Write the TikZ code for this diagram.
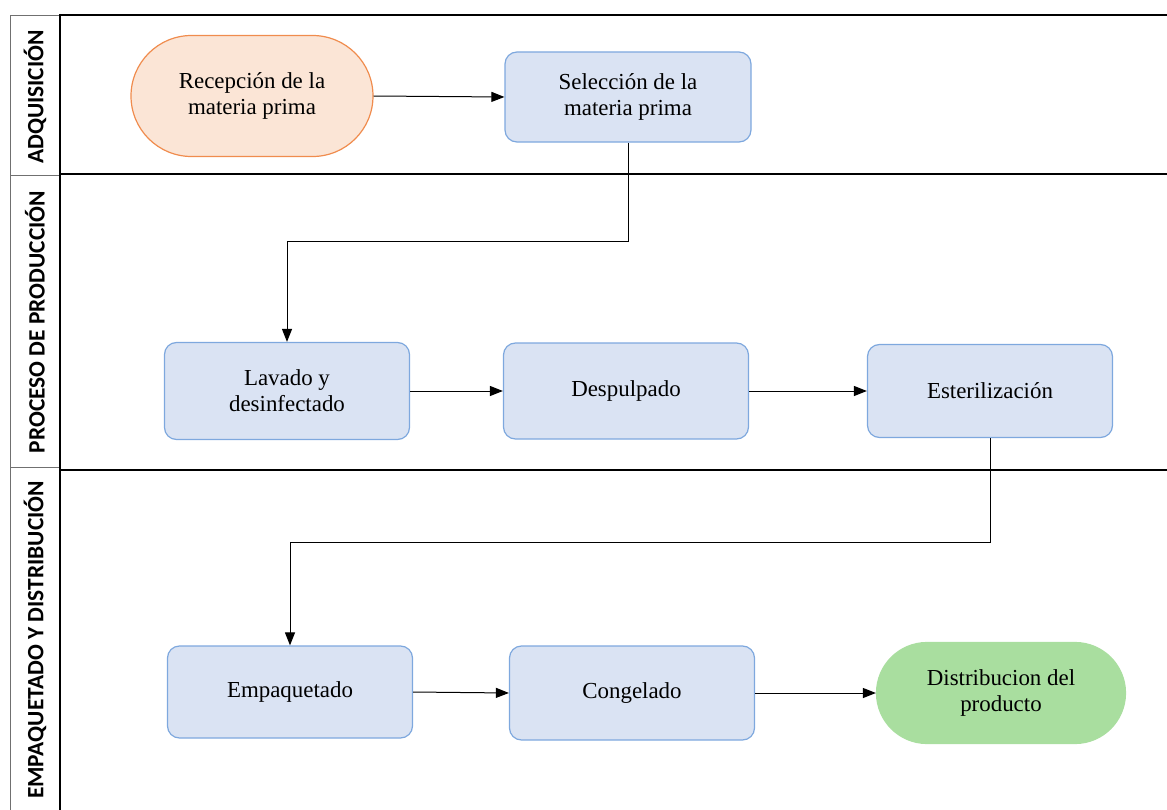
\documentclass[tikz,border=0pt]{standalone}
\usepackage{fontspec}
\setmainfont{Liberation Serif}
\newfontfamily\lanefont{Carlito}
\usetikzlibrary{arrows.meta,shapes.misc}
\definecolor{orfill}{HTML}{FBE5D6}
\definecolor{ordraw}{HTML}{F08C4E}
\definecolor{blfill}{HTML}{DAE3F3}
\definecolor{bldraw}{HTML}{7EA8DE}
\definecolor{grfill}{HTML}{A9DE9F}
\definecolor{thingray}{HTML}{707070}
\tikzset{
  proc/.style={draw=bldraw, fill=blfill, line width=1.2bp, rounded corners=12bp,
    minimum width=245bp, minimum height=95bp, inner sep=0pt, align=center,
    font=\fontsize{23}{26}\selectfont},
  term/.style={rounded rectangle, line width=1.2bp, minimum width=242bp,
    minimum height=120bp, inner sep=0pt, align=center,
    font=\fontsize{23}{26}\selectfont},
  lanelabel/.style={rotate=90, font=\lanefont\bfseries\fontsize{23.5}{26}\selectfont},
  conn/.style={line width=1bp, -{Triangle[length=13bp,width=10bp]}},
  thick lane/.style={line width=2.6bp},
  thin lane/.style={line width=0.9bp, draw=thingray}
}
\begin{document}
\begin{tikzpicture}[x=1bp,y=-1bp]
\useasboundingbox (0,0) rectangle (1167,810);
% label column
\draw[thin lane] (60,15) -- (10,15) -- (10,810);
\draw[thin lane] (10,175) -- (60,175);
\draw[thin lane] (10,467) -- (60,467);
% thick lane lines
\draw[thick lane] (60,15) -- (1167,15);
\draw[thick lane] (60,174) -- (1167,174);
\draw[thick lane] (60,470) -- (1167,470);
\draw[thick lane] (60,14) -- (60,810);
% lane labels
\node[lanelabel] (l1) at (35,97) {ADQUISICIÓN};
\node[lanelabel] (l2) at (35,322) {PROCESO DE PRODUCCIÓN};
\node[lanelabel] (l3) at (35,640) {EMPAQUETADO Y DISTRIBUCIÓN};
% nodes
\node[term, draw=ordraw, fill=orfill, minimum width=242bp, minimum height=121bp] (rec) at (252,96) {Recepción de la\\materia prima};
\node[proc, minimum width=246bp, minimum height=90bp] (sel) at (628,97) {Selección de la\\materia prima};
\node[proc, minimum height=97bp] (lav) at (287,391) {Lavado y\\desinfectado};
\node[proc, minimum height=96bp] (des) at (626,391) {Despulpado};
\node[proc, minimum height=93bp] (est) at (990,391) {Esterilización};
\node[proc, minimum height=92bp] (emp) at (290,692) {Empaquetado};
\node[proc, minimum height=94bp] (con) at (632,693) {Congelado};
\node[term, draw=grfill, fill=grfill, minimum width=249bp, minimum height=101bp] (dis) at (1001,693) {Distribucion del\\producto};
% connectors
\draw[conn] (rec.east) -- (sel.west);
\draw[conn] (sel.south) -- ++(0,99) -| (lav.north);
\draw[conn] (lav.east) -- (des.west);
\draw[conn] (des.east) -- (est.west);
\draw[conn] (est.south) -- ++(0,104) -| (emp.north);
\draw[conn] (emp.east) -- (con.west);
\draw[conn] (con.east) -- (dis.west);
\end{tikzpicture}
\end{document}
